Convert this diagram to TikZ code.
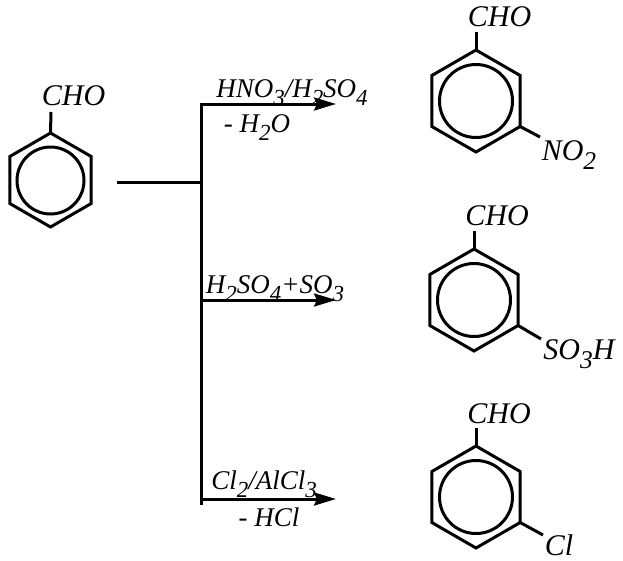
\documentclass[tikz,border=0pt]{standalone}
\usepackage{fontspec}
\setmainfont{Liberation Serif}
\usetikzlibrary{arrows.meta, positioning, shapes.geometric}
\newcommand{\chemsb}[1]{\raisebox{-0.32em}{\scalebox{0.85}{#1}}}
\tikzstyle{reaction}=[x=1pt, y=-1pt, line width=3pt, >={Stealth[length=22pt,width=13pt,inset=3pt]}]
\tikzstyle{ringbox}=[draw, regular polygon, regular polygon sides=6, shape border rotate=30, inner sep=0pt, outer sep=0pt, line width=3pt, line join=miter]
\tikzstyle{innerring}=[draw, circle, inner sep=0pt, outer sep=0pt, line width=3pt]
\tikzstyle{group}=[inner sep=0pt, anchor=base, font=\fontsize{30}{32}\selectfont\itshape]
\tikzstyle{reagent}=[inner sep=0pt, anchor=base, font=\fontsize{27}{30}\selectfont\itshape]

\begin{document}
\begin{tikzpicture}[reaction]
  \useasboundingbox (0,0) rectangle (623,560);
  % rings
  \node[ringbox,minimum size=94pt] (ring0) at (50.5,180) {};
  \node[innerring,minimum size=67pt] (circ0) at (50.5,180.5) {};
  \node[ringbox,minimum size=102pt] (ring1) at (476,101) {};
  \node[innerring,minimum size=73pt] (circ1) at (476,101) {};
  \node[ringbox,minimum size=102pt] (ring2) at (474,300) {};
  \node[innerring,minimum size=73pt] (circ2) at (474,300) {};
  \node[ringbox,minimum size=102pt] (ring3) at (476,497) {};
  \node[innerring,minimum size=73pt] (circ3) at (476,497) {};
  % groups
  \node[group] (cho0) at (73.5,105) {CHO};
  \node[group] (cho1) at (499.5,26) {CHO};
  \node[group] (cho2) at (497,225) {CHO};
  \node[group] (cho3) at (499,423) {CHO};
  \node[group] (no2) at (569,160) {NO\chemsb{2}};
  \node[group] (so3h) at (579,359) {SO\chemsb{3}H};
  \node[group] (cl) at (559,555) {Cl};
  % free ends of the bonds
  \coordinate (up0) at (51,112);
  \coordinate (up1) at (476,32);
  \coordinate (up2) at (474,231);
  \coordinate (up3) at (476,428);
  \coordinate (out1) at (540,137);
  \coordinate (out2) at (541,339);
  \coordinate (out3) at (543,535);
  \draw (ring0.corner 1) -- (up0);
  \draw (ring1.corner 1) -- (up1);
  \draw (ring2.corner 1) -- (up2);
  \draw (ring3.corner 1) -- (up3);
  \draw (ring1.corner 5) -- (out1);
  \draw (ring2.corner 5) -- (out2);
  \draw (ring3.corner 5) -- (out3);
  % branch lines
  \coordinate (start) at (117,182);
  \coordinate (fork) at (201,182);
  \coordinate (top) at (201,104);
  \coordinate (mid) at (201,300);
  \coordinate (low) at (201,499);
  \coordinate (end) at (201,505);
  \coordinate (tip1) at (336,104);
  \coordinate (tip2) at (336,300);
  \coordinate (tip3) at (336,499);
  \draw (start) -- (fork);
  \draw (top) -- (end);
  \draw[->,line cap=rect] (top) -- (tip1);
  \draw[->] (mid) -- (tip2);
  \draw[->] (low) -- (tip3);
  % reagents
  \node[reagent] (hno3) at (292,97) {HNO\chemsb{3}/H\chemsb{2}SO\chemsb{4}};
  \node[reagent] (h2o) at (257,132) {- H\chemsb{2}O};
  \node[reagent] (h2so4) at (275,293) {H\chemsb{2}SO\chemsb{4}+SO\chemsb{3}};
  \node[reagent] (alcl3) at (264,489) {Cl\chemsb{2}/AlCl\chemsb{3}};
  \node[reagent] (hcl) at (269,526) {- HCl};
\end{tikzpicture}
\end{document}
